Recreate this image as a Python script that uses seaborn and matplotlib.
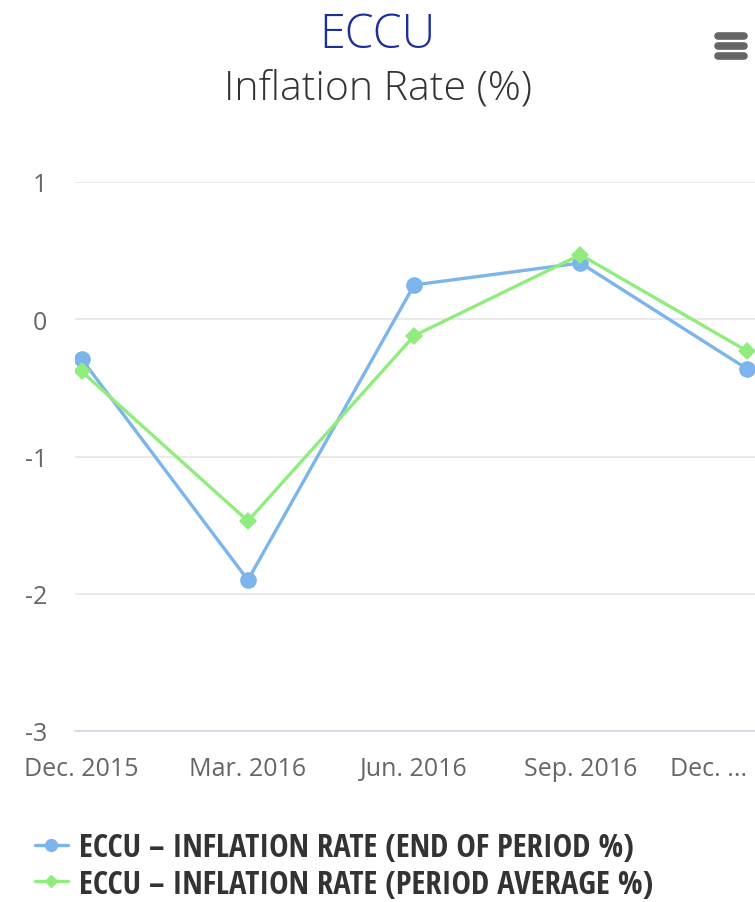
import matplotlib
matplotlib.use("Agg")
import matplotlib.pyplot as plt
from matplotlib.lines import Line2D
import pandas as pd
import seaborn as sns

# chart data
periods = ["Dec. 2015", "Mar. 2016", "Jun. 2016", "Sep. 2016", "Dec. ..."]
end_of_period = [-0.29, -1.90, 0.25, 0.41, -0.36]
period_average = [-0.38, -1.47, -0.12, 0.47, -0.23]
series_names = ["ECCU – INFLATION RATE (END OF PERIOD %)",
                "ECCU – INFLATION RATE (PERIOD AVERAGE %)"]
y_ticks = [-3, -2, -1, 0, 1]

BLUE = "#7cb5ec"
GREEN = "#90ed7d"

sns.set_style("white")
plt.rcParams["font.family"] = ["Open Sans", "DejaVu Sans"]
plt.rcParams["font.weight"] = 400

# long format table for seaborn
df = pd.DataFrame({
    "pos": list(range(len(periods))) * 2,
    "value": end_of_period + period_average,
    "series": [series_names[0]] * len(periods) + [series_names[1]] * len(periods),
})

fig = plt.figure(figsize=(7.55, 9.03), dpi=100)
ax = fig.add_axes([75 / 755, 1 - 732 / 903, 1 - 75 / 755, (732 - 183) / 903])

sns.lineplot(data=df, x="pos", y="value", hue="series", style="series",
             palette=[BLUE, GREEN], markers=["o", "D"], dashes=False,
             markersize=12, linewidth=2.4, markeredgewidth=0, ax=ax,
             legend=False)
# diamond a bit smaller than circle
ax.lines[1].set_markersize(9)

ax.set_xlim(-0.04, 4.05)
ax.set_ylim(-3, 1)
ax.set_xticks(range(len(periods)))
ax.set_xticklabels(periods)
ax.set_yticks(y_ticks)
ax.set_yticklabels([str(t) for t in y_ticks])
ax.set_xlabel("")
ax.set_ylabel("")
# last label is squeezed against the right edge
ax.get_xticklabels()[-1].set_ha("right")

ax.grid(axis="y", color="#e6e6e6", linewidth=1.2)
ax.set_axisbelow(True)
for side in ["top", "right", "left"]:
    ax.spines[side].set_visible(False)
ax.spines["bottom"].set_color("#ccd6eb")
ax.spines["bottom"].set_linewidth(1.2)

ax.tick_params(axis="x", colors="#666666", labelsize=18, length=14,
               width=1.2, color="#ccd6eb", pad=4)
ax.tick_params(axis="y", colors="#666666", labelsize=18, length=0, pad=20)

# titles
fig.text(0.5, 1 - 36 / 903, "ECCU", ha="center", va="center",
         fontsize=33.5, weight=300, color="#1c2e9c")
fig.text(0.5, 1 - 89 / 903, "Inflation Rate (%)", ha="center", va="center",
         fontsize=29.5, weight=300, color="#333333")

# menu icon
for yy in [37, 47, 57]:
    fig.add_artist(Line2D([718 / 755, 744 / 755], [1 - yy / 903] * 2,
                          color="#666666", linewidth=5.5,
                          solid_capstyle="round"))

# legend
handles = [Line2D([], [], color=BLUE, marker="o", markersize=8.5, linewidth=2.4),
           Line2D([], [], color=GREEN, marker="D", markersize=6.5, linewidth=2.4)]
leg = fig.legend(handles, series_names, loc="upper left",
                 bbox_to_anchor=(35 / 755, 1 - 832 / 903), frameon=False,
                 borderpad=0, borderaxespad=0,
                 handlelength=1.0, handletextpad=0.35, labelspacing=0.12,
                 prop={"family": "Open Sans Condensed", "weight": "bold",
                       "stretch": "condensed", "size": 23.5})
for t in leg.get_texts():
    t.set_color("#333333")

fig.savefig("out.png", dpi=100)
